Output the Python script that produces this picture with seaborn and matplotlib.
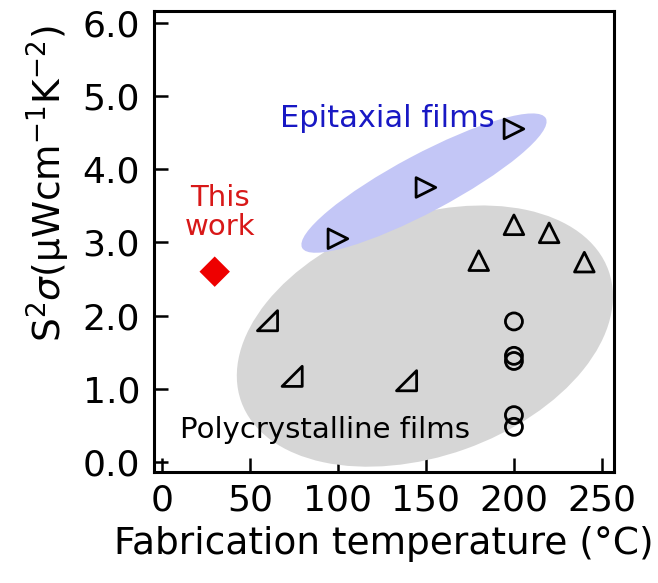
import numpy as np
import pandas as pd
import seaborn as sns
import matplotlib
matplotlib.use("Agg")
import matplotlib.pyplot as plt
from matplotlib.patches import Ellipse
from matplotlib.path import Path
from matplotlib.transforms import ScaledTranslation

# data
epi_x = [100, 150, 200]
epi_y = [3.05, 3.75, 4.55]
poly_up_x = [180, 200, 220, 240]
poly_up_y = [2.75, 3.24, 3.13, 2.73]
poly_rt_x = [60, 74, 139]
poly_rt_y = [1.93, 1.17, 1.11]
poly_circ_x = [200, 200, 200, 200, 200]
poly_circ_y = [1.92, 1.45, 1.38, 0.64, 0.48]
this_x = [30]
this_y = [2.6]

x_ticks = [0, 50, 100, 150, 200, 250]
y_ticks = [0.0, 1.0, 2.0, 3.0, 4.0, 5.0, 6.0]

sns.set_theme(style="ticks")
plt.rcParams["font.family"] = ["DejaVu Sans"]
plt.rcParams["mathtext.fontset"] = "dejavusans"
plt.rcParams["text.color"] = "black"
plt.rcParams["axes.labelcolor"] = "black"

DPI = 100
fig = plt.figure(figsize=(6.58, 5.83), dpi=DPI)
ax = fig.add_axes([0.234, 0.190, 0.699, 0.791])
ax.set_xlim(-4.5, 256.8)
ax.set_ylim(-0.14, 6.16)


def blob(cx, cy, a_px, b_px, angle, color):
    # ellipse sized in pixels, centred on a data point
    tr = fig.dpi_scale_trans + ScaledTranslation(cx, cy, ax.transData)
    e = Ellipse((0, 0), 2 * a_px / DPI, 2 * b_px / DPI, angle=angle,
                transform=tr, facecolor=color, edgecolor="none", zorder=1)
    ax.add_patch(e)


blob(149.4, 1.72, 195, 120, 19.6, "#d6d6d6")
blob(148.9, 3.81, 138, 29, 28, "#c3c6f6")

corner_tri = Path([(-1, -1), (1, -1), (1, 1), (-1, -1)],
                  [Path.MOVETO, Path.LINETO, Path.LINETO, Path.CLOSEPOLY])

style = dict(facecolor="none", edgecolor="black", linewidth=2.0, zorder=3)
sns.scatterplot(x=epi_x, y=epi_y, marker=">", s=200, ax=ax, **style)
sns.scatterplot(x=poly_up_x, y=poly_up_y, marker="^", s=200, ax=ax, **style)
sns.scatterplot(x=poly_rt_x, y=poly_rt_y, marker=corner_tri, s=210, ax=ax, **style)
sns.scatterplot(x=poly_circ_x, y=poly_circ_y, marker="o", s=150, ax=ax, **style)
sns.scatterplot(x=this_x, y=this_y, marker="D", s=240, color="#ee0000",
                edgecolor="none", ax=ax, zorder=4)

ax.text(128, 4.69, "Epitaxial films", color="#1818c4", fontsize=22,
        ha="center", va="center")
ax.text(33, 3.41, "This\nwork", color="#d81818", fontsize=21,
        ha="center", va="center", linespacing=1.05)
ax.text(92.6, 0.44, "Polycrystalline films", color="black", fontsize=21,
        ha="center", va="center")

ax.set_xticks(x_ticks)
ax.set_yticks(y_ticks)
ax.set_yticklabels([f"{v:.1f}" for v in y_ticks])
ax.tick_params(direction="in", length=10, width=1.8, labelsize=26,
               colors="black", top=False, right=False)
ax.tick_params(axis="y", pad=10)
ax.tick_params(axis="x", pad=8)
for sp in ax.spines.values():
    sp.set_linewidth(2.2)
    sp.set_color("black")

ax.set_xlabel("Fabrication temperature (°C)", fontsize=27, labelpad=6)
ax.set_ylabel(r"S$^2\sigma$(μWcm$^{-1}$K$^{-2}$)", fontsize=27)
ax.yaxis.set_label_coords(-0.178, 0.625)

fig.savefig("out.png", dpi=DPI)
